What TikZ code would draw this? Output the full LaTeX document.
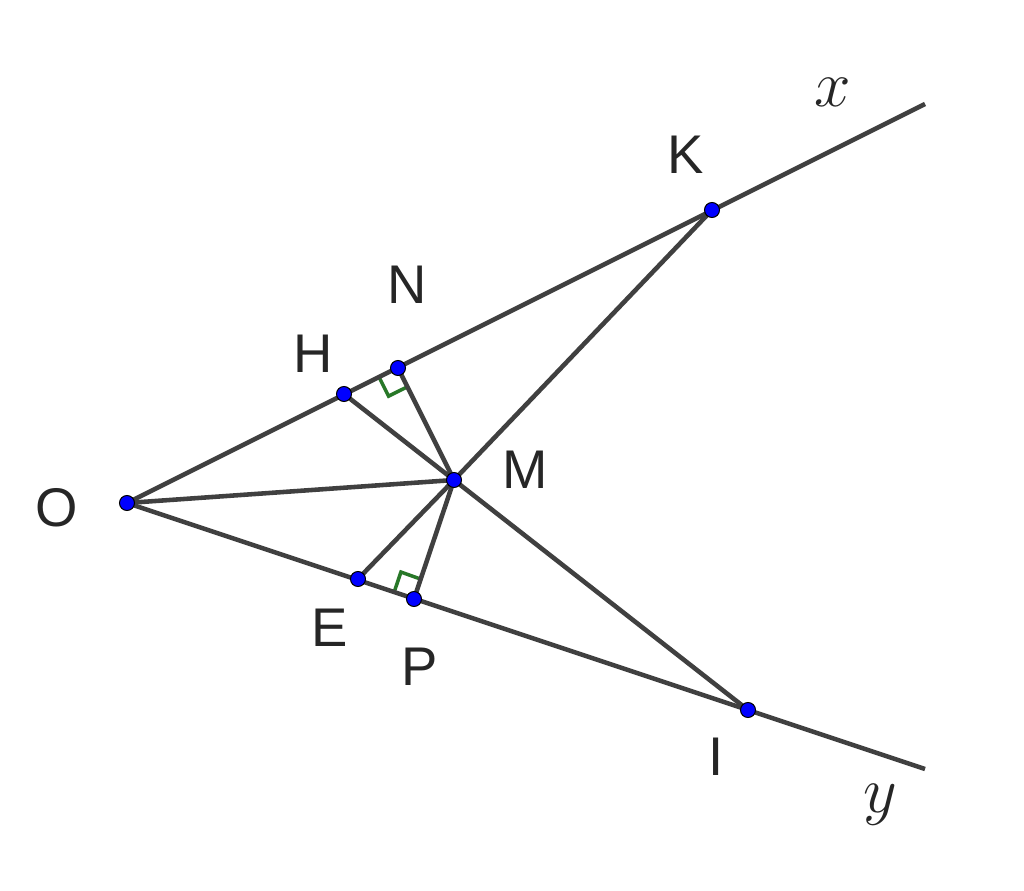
\documentclass[tikz,border=0pt]{standalone}
\usepackage{fontspec}
\setmainfont{Liberation Sans}
\usetikzlibrary{calc}
\definecolor{seg}{RGB}{64,64,64}
\definecolor{rgreen}{RGB}{40,120,40}
\begin{document}
\begin{tikzpicture}[x=0.02cm,y=-0.02cm,
    seg/.style={draw=seg, line width=2.6pt},
    pt/.style={circle, fill=blue, draw=black, line width=0.6pt, inner sep=0pt, minimum size=0.3cm},
    lbl/.style={font=\fontsize{31}{36}\selectfont, text=black!85}
  ]
  \useasboundingbox (0,0) rectangle (1024,891);

  \coordinate (O) at (127,503);
  \coordinate (H) at (344,394);
  \coordinate (N) at (398,368);
  \coordinate (K) at (712,210);
  \coordinate (xe) at (925,104);
  \coordinate (E) at (358,579);
  \coordinate (P) at (414,599);
  \coordinate (I) at (748,710);
  \coordinate (ye) at (925,769);
  \coordinate (M) at (454,480);

  % right angle marks
  \coordinate (na) at ($(N)!0.42cm!(O)$);
  \coordinate (nb) at ($(N)!0.42cm!(M)$);
  \draw[rgreen, line width=2pt] (na) -- ($(na)+(nb)-(N)$) -- (nb);
  \coordinate (pa) at ($(P)!0.42cm!(E)$);
  \coordinate (pb) at ($(P)!0.42cm!(M)$);
  \draw[rgreen, line width=2pt] (pa) -- ($(pa)+(pb)-(P)$) -- (pb);

  \draw[seg] (O) -- (xe);
  \draw[seg] (O) -- (ye);
  \draw[seg] (O) -- (M);
  \draw[seg] (H) -- (M);
  \draw[seg] (N) -- (M);
  \draw[seg] (E) -- (M);
  \draw[seg] (P) -- (M);
  \draw[seg] (K) -- (M) -- (I);

  \foreach \p in {O,H,N,K,E,P,I,M}
    \node[pt] at (\p) {};

  \node[lbl] at (57,508) {O};
  \node[lbl] at (313,354) {H};
  \node[lbl] at (407,285) {N};
  \node[lbl] at (686,155) {K};
  \node[lbl] at (525,470) {M};
  \node[lbl] at (330,628) {E};
  \node[lbl] at (420,667) {P};
  \node[lbl] at (716,757) {I};
  \node[lbl] at (833,92) {\scalebox{1.5}{$x$}};
  \node[lbl] at (880,805) {\scalebox{1.5}{$y$}};
\end{tikzpicture}
\end{document}
